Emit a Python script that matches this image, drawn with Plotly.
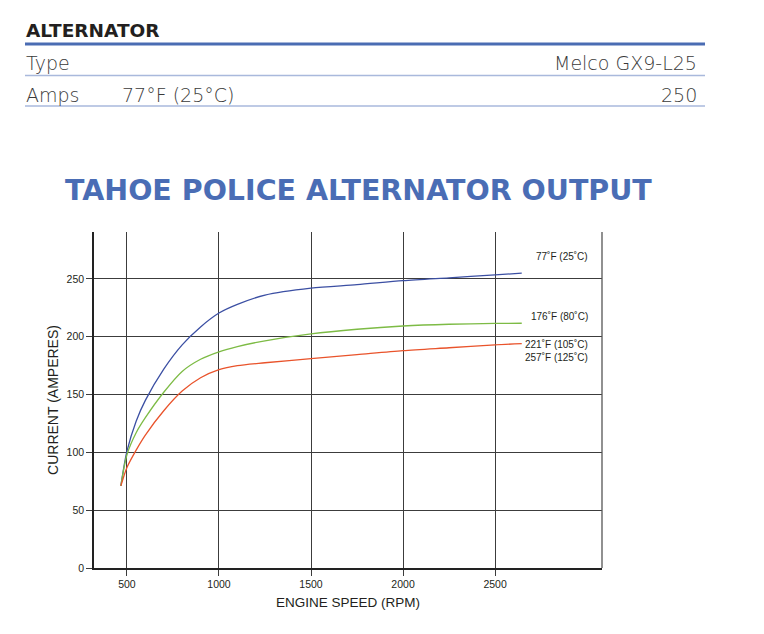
import plotly.graph_objects as go

# ---- data ----
rpm = [467, 500, 550, 600, 700, 800, 900, 1000, 1100, 1250, 1500, 1750, 2000, 2250, 2500, 2645]
amps_77F = [71, 101, 127, 145, 172, 193, 208.5, 220.5, 228, 236, 242, 245, 248.5, 251, 253.5, 255]
amps_176F = [71, 98, 117, 130, 152, 170, 180.5, 187, 191.5, 196.5, 202.5, 206.5, 209.3, 210.8, 211.5, 211.7]
amps_221F = [71, 87, 102, 115, 136, 153, 164.5, 171.5, 175, 177.5, 181, 184.5, 188, 190.5, 193, 194]

series_names = ["77˚F (25˚C)", "176˚F (80˚C)", "221˚F (105˚C)<br>257˚F (125˚C)"]
series_colors = ["#3b4fa3", "#7dbb45", "#e9532b"]
label_y = [269, 217.5, 187.5]

x_ticks = [500, 1000, 1500, 2000, 2500]
y_ticks = [0, 50, 100, 150, 200, 250]

spec_rows = [("Type", "", "Melco GX9-L25"), ("Amps", "77°F (25°C)", "250")]

# ---- geometry helpers (page pixels; page has an 8px body margin) ----
OFF = 8
W, H = 764 - 2 * OFF, 634 - 2 * OFF
L, R, T, B = 94 - OFF, 602 - OFF, 232 - OFF, 568 - OFF


def px(x):
    return (x - OFF - L) / (R - L)


def py(y):
    return (B - (y - OFF)) / (B - T)


fig = go.Figure()
for vals, name, col in zip([amps_77F, amps_176F, amps_221F], series_names, series_colors):
    fig.add_trace(go.Scatter(x=rpm, y=vals, mode="lines", name=name,
                             line=dict(color=col, width=1.3, shape="spline", smoothing=0.8),
                             showlegend=False, hoverinfo="skip"))

ann = []
for name, yv in zip(series_names, label_y):
    ann.append(dict(x=3016, y=yv, xref="x", yref="y", text=name, showarrow=False,
                    xanchor="right", yanchor="middle", align="right",
                    font=dict(size=10, color="#231f20", family="Liberation Sans")))

# header texts
hdr_font = dict(family="DejaVu Sans", size=19, color="#3a3a3a", weight=200)
ann.append(dict(x=px(24), y=py(31), xref="paper", yref="paper", text="<b>ALTERNATOR</b>",
                showarrow=False, xanchor="left", yanchor="middle",
                font=dict(family="DejaVu Sans", size=18.5, color="#231f20")))
row_y = [63, 95]
for (a, b, c), yy in zip(spec_rows, row_y):
    ann.append(dict(x=px(24), y=py(yy), xref="paper", yref="paper", text=a, showarrow=False,
                    xanchor="left", yanchor="middle", font=hdr_font))
    if b:
        ann.append(dict(x=px(120), y=py(yy), xref="paper", yref="paper", text=b, showarrow=False,
                        xanchor="left", yanchor="middle", font=hdr_font))
    ann.append(dict(x=px(699), y=py(yy), xref="paper", yref="paper", text=c, showarrow=False,
                    xanchor="right", yanchor="middle", font=hdr_font))

ann.append(dict(x=px(358), y=py(190), xref="paper", yref="paper",
                text="<b>TAHOE POLICE ALTERNATOR OUTPUT</b>", showarrow=False,
                xanchor="center", yanchor="middle",
                font=dict(family="DejaVu Sans", size=28.5, color="#4a6db5")))

shapes = [
    dict(type="line", xref="paper", yref="paper", x0=px(25), x1=px(705), y0=py(44), y1=py(44),
         line=dict(color="#4a6cb3", width=3)),
    dict(type="line", xref="paper", yref="paper", x0=px(25), x1=px(705), y0=py(75.5), y1=py(75.5),
         line=dict(color="#a9b9dc", width=1.3)),
    dict(type="line", xref="paper", yref="paper", x0=px(25), x1=px(705), y0=py(106), y1=py(106),
         line=dict(color="#a9b9dc", width=1.3)),
    dict(type="line", xref="paper", yref="paper", x0=1, x1=1, y0=0, y1=1,
         line=dict(color="#555555", width=1.3)),
]

grid_col = "#3c3c3c"
fig.update_layout(
    width=W, height=H,
    margin=dict(l=L, r=W - R, t=T, b=H - B),
    paper_bgcolor="white", plot_bgcolor="white",
    annotations=ann, shapes=shapes,
    font=dict(family="Liberation Sans", color="#231f20"),
    xaxis=dict(range=[321, 3081], tickvals=x_ticks, ticktext=[str(v) for v in x_ticks],
               showgrid=True, gridcolor=grid_col, gridwidth=1.3,
               showline=True, linecolor="#222222", linewidth=1.5,
               ticks="outside", ticklen=6, tickcolor=grid_col, tickwidth=1.3,
               tickfont=dict(size=10.5, color="#231f20"), zeroline=False,
               title=dict(text="ENGINE SPEED (RPM)", font=dict(size=13.5, color="#231f20"), standoff=8)),
    yaxis=dict(range=[0, 290.6], tickvals=y_ticks, ticktext=[str(v) for v in y_ticks],
               showgrid=True, gridcolor=grid_col, gridwidth=1.3,
               showline=True, linecolor="#222222", linewidth=1.5,
               ticks="outside", ticklen=6, tickcolor=grid_col, tickwidth=1.3,
               tickfont=dict(size=10.5, color="#231f20"), zeroline=False,
               title=dict(text="CURRENT (AMPERES)", font=dict(size=14, color="#231f20"), standoff=5)),
)

fig.write_html("out.html")
